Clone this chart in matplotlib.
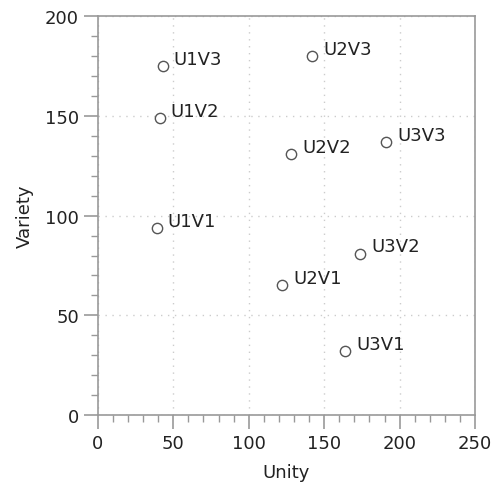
import matplotlib
matplotlib.use('Agg')
import matplotlib.pyplot as plt
from matplotlib.ticker import MultipleLocator

plt.rcParams['font.family'] = ['DejaVu Sans']

labels = ['U1V1', 'U1V2', 'U1V3', 'U2V1', 'U2V2', 'U2V3', 'U3V1', 'U3V2', 'U3V3']
unity = [39, 41, 43, 122, 128, 142, 164, 174, 191]
variety = [94, 149, 175, 65, 131, 180, 32, 81, 137]

fig = plt.figure(figsize=(4.99, 4.89), dpi=100)
ax = fig.add_axes([0.196, 0.149, 0.756, 0.816])

ax.scatter(unity, variety, s=55, facecolors='white', edgecolors='#555555',
           linewidths=1.0, zorder=3)
for lab, x, y in zip(labels, unity, variety):
    ax.annotate(lab, (x, y), xytext=(8, 1.5), textcoords='offset points',
                ha='left', va='baseline', fontsize=13, color='#222222')

ax.set_xlim(0, 250)
ax.set_ylim(0, 200)
ax.xaxis.set_major_locator(MultipleLocator(50))
ax.yaxis.set_major_locator(MultipleLocator(50))
ax.xaxis.set_minor_locator(MultipleLocator(10))
ax.yaxis.set_minor_locator(MultipleLocator(10))

for s in ax.spines.values():
    s.set_color('#999999')
    s.set_linewidth(1.2)
ax.tick_params(which='major', length=10, width=1.2, color='#999999',
               labelsize=13, labelcolor='#222222', direction='out')
ax.tick_params(which='minor', length=5, width=1.0, color='#999999',
               direction='out')
ax.grid(True, which='major', linestyle=(0, (1, 4)), color='#cccccc', linewidth=1)

ax.set_xlabel('Unity', fontsize=13, color='#222222', labelpad=8)
ax.set_ylabel('Variety', fontsize=13, color='#222222', labelpad=8)

fig.savefig('out.png', dpi=100)
